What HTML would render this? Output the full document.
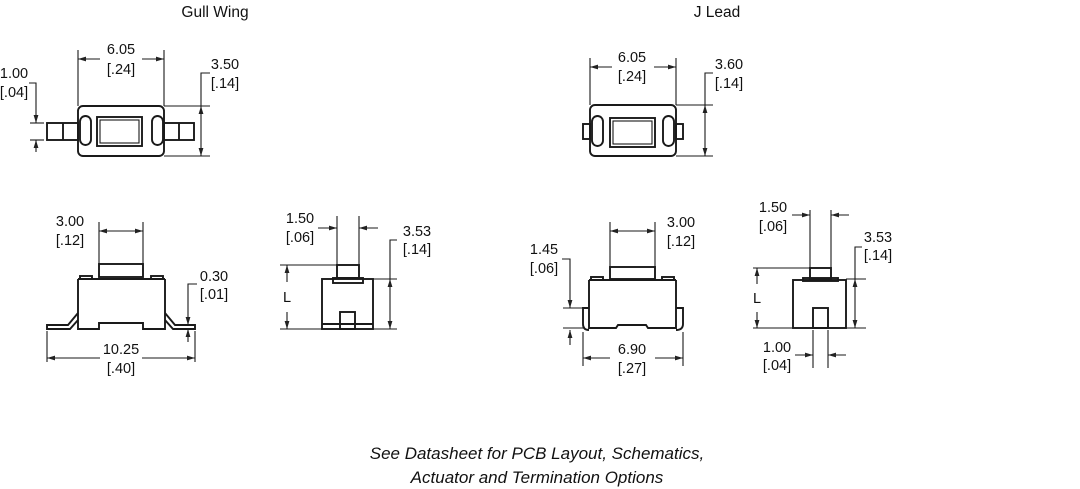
<!DOCTYPE html>
<html><head><meta charset="utf-8"><style>
html,body{margin:0;padding:0;background:#fff;width:1080px;height:489px;overflow:hidden}
svg{display:block}
.d{font-family:"Liberation Sans",sans-serif;font-size:14.5px;fill:#111;text-anchor:middle}
.t{font-family:"Liberation Sans",sans-serif;font-size:15.5px;fill:#111;text-anchor:middle}
.i{font-family:"Liberation Sans",sans-serif;font-size:17px;font-style:italic;fill:#111;text-anchor:middle}
.s{stroke:#1a1a1a;stroke-width:1.9;fill:none}
.l{stroke:#1a1a1a;stroke-width:1.1;fill:none}
</style></head><body>
<svg width="1080" height="489" viewBox="0 0 1080 489" xmlns="http://www.w3.org/2000/svg">
<defs>
<marker id="a" viewBox="0 0 10 10" refX="10" refY="5" markerWidth="8" markerHeight="8" markerUnits="userSpaceOnUse" orient="auto"><path d="M0,2 L10,5 L0,8 z" fill="#222"/></marker>
</defs>
<text class="t" x="215" y="17">Gull Wing</text>
<text class="t" x="717" y="17">J Lead</text>

<!-- Gull wing top view -->
<rect class="s" x="78" y="106" width="86" height="50" rx="5"/>
<rect class="s" x="97" y="117" width="45" height="29"/>
<rect class="l" x="100" y="120" width="39" height="23"/>
<rect class="s" x="80" y="116" width="11" height="29" rx="5.5"/>
<rect class="s" x="152" y="116" width="11" height="29" rx="5.5"/>
<rect class="s" x="47" y="123" width="31" height="17"/><line class="s" x1="63" y1="123" x2="63" y2="140"/>
<rect class="s" x="164" y="123" width="30" height="17"/><line class="s" x1="179" y1="123" x2="179" y2="140"/>
<line class="l" x1="78" y1="50" x2="78" y2="106"/><line class="l" x1="164" y1="50" x2="164" y2="106"/>
<line class="l" x1="100" y1="59" x2="78" y2="59" marker-end="url(#a)"/><line class="l" x1="142" y1="59" x2="164" y2="59" marker-end="url(#a)"/>
<text class="d" x="121" y="54">6.05</text><text class="d" x="121" y="74">[.24]</text>
<line class="l" x1="164" y1="106" x2="210" y2="106"/><line class="l" x1="164" y1="156" x2="210" y2="156"/>
<polyline class="l" points="210,73 201,73 201,106"/>
<line class="l" x1="201" y1="110" x2="201" y2="106" marker-end="url(#a)"/><line class="l" x1="201" y1="110" x2="201" y2="156" marker-end="url(#a)"/>
<text class="d" x="225" y="69">3.50</text><text class="d" x="225" y="88">[.14]</text>
<line class="l" x1="30" y1="123" x2="44" y2="123"/><line class="l" x1="30" y1="140" x2="44" y2="140"/>
<polyline class="l" points="29,83 36,83 36,123" marker-end="url(#a)"/>
<line class="l" x1="36" y1="152" x2="36" y2="140" marker-end="url(#a)"/>
<text class="d" x="14" y="78">1.00</text><text class="d" x="14" y="97">[.04]</text>

<!-- Gull wing front view -->
<rect class="s" x="99" y="264" width="44" height="13"/>
<rect class="s" x="80" y="276" width="12" height="3" fill="#888"/><rect class="s" x="151" y="276" width="12" height="3" fill="#888"/>
<line class="s" x1="78" y1="279" x2="165" y2="279"/>
<path class="s" d="M78,279 V329 H99 V323 H143 V329 H165 V279"/>
<path class="s" d="M78,313 L68,325 H47 V329 H70 L78,320"/>
<path class="s" d="M165,313 L175,325 H195 V329 H173 L165,320"/>
<line class="l" x1="99" y1="222" x2="99" y2="264"/><line class="l" x1="143" y1="222" x2="143" y2="264"/>
<line class="l" x1="121" y1="231" x2="99" y2="231" marker-end="url(#a)"/><line class="l" x1="121" y1="231" x2="143" y2="231" marker-end="url(#a)"/>
<text class="d" x="70" y="226">3.00</text><text class="d" x="70" y="245">[.12]</text>
<polyline class="l" points="197,284 188,284 188,325" marker-end="url(#a)"/>
<line class="l" x1="188" y1="342" x2="188" y2="329" marker-end="url(#a)"/>
<text class="d" x="214" y="281">0.30</text><text class="d" x="214" y="299">[.01]</text>
<line class="l" x1="47" y1="331" x2="47" y2="362"/><line class="l" x1="195" y1="331" x2="195" y2="362"/>
<line class="l" x1="100" y1="358" x2="47" y2="358" marker-end="url(#a)"/><line class="l" x1="142" y1="358" x2="195" y2="358" marker-end="url(#a)"/>
<text class="d" x="121" y="354">10.25</text><text class="d" x="121" y="373">[.40]</text>

<!-- Gull wing side view -->
<rect class="s" x="337" y="265" width="22" height="13"/>
<rect class="s" x="333" y="278" width="30" height="5"/>
<rect class="s" x="322" y="279" width="51" height="50"/>
<line class="s" x1="322" y1="324" x2="373" y2="324"/>
<rect class="s" x="340" y="312" width="15" height="17"/>
<line class="l" x1="280" y1="265" x2="337" y2="265"/><line class="l" x1="280" y1="329" x2="322" y2="329"/>
<line class="l" x1="287" y1="282" x2="287" y2="265" marker-end="url(#a)"/><line class="l" x1="287" y1="312" x2="287" y2="329" marker-end="url(#a)"/>
<text class="d" x="287" y="302">L</text>
<line class="l" x1="337" y1="216" x2="337" y2="265"/><line class="l" x1="359" y1="216" x2="359" y2="265"/>
<line class="l" x1="318" y1="228" x2="337" y2="228" marker-end="url(#a)"/><line class="l" x1="378" y1="228" x2="359" y2="228" marker-end="url(#a)"/>
<text class="d" x="300" y="223">1.50</text><text class="d" x="300" y="242">[.06]</text>
<line class="l" x1="373" y1="279" x2="397" y2="279"/><line class="l" x1="373" y1="329" x2="397" y2="329"/>
<polyline class="l" points="397,240 390,240 390,279"/>
<line class="l" x1="390" y1="300" x2="390" y2="279" marker-end="url(#a)"/><line class="l" x1="390" y1="300" x2="390" y2="329" marker-end="url(#a)"/>
<text class="d" x="417" y="236">3.53</text><text class="d" x="417" y="254">[.14]</text>

<!-- J lead top view -->
<rect class="s" x="590" y="105" width="86" height="51" rx="5"/>
<rect class="s" x="610" y="118" width="45" height="29"/>
<rect class="l" x="613" y="121" width="39" height="23"/>
<rect class="s" x="592" y="116" width="11" height="30" rx="5.5"/>
<rect class="s" x="663" y="116" width="11" height="30" rx="5.5"/>
<rect class="s" x="583" y="124" width="7" height="15"/>
<rect class="s" x="676" y="124" width="7" height="15"/>
<line class="l" x1="590" y1="58" x2="590" y2="105"/><line class="l" x1="676" y1="58" x2="676" y2="105"/>
<line class="l" x1="612" y1="67" x2="590" y2="67" marker-end="url(#a)"/><line class="l" x1="654" y1="67" x2="676" y2="67" marker-end="url(#a)"/>
<text class="d" x="632" y="62">6.05</text><text class="d" x="632" y="81">[.24]</text>
<line class="l" x1="676" y1="105" x2="713" y2="105"/><line class="l" x1="676" y1="156" x2="713" y2="156"/>
<polyline class="l" points="713,73 705,73 705,105"/>
<line class="l" x1="705" y1="110" x2="705" y2="105" marker-end="url(#a)"/><line class="l" x1="705" y1="110" x2="705" y2="156" marker-end="url(#a)"/>
<text class="d" x="729" y="69">3.60</text><text class="d" x="729" y="88">[.14]</text>

<!-- J lead front view -->
<rect class="s" x="610" y="267" width="45" height="12"/>
<rect class="s" x="591" y="277" width="12" height="3" fill="#888"/><rect class="s" x="662" y="277" width="12" height="3" fill="#888"/>
<line class="s" x1="589" y1="280" x2="676" y2="280"/>
<path class="s" d="M589,280 V328 H616 L618,325 H646 L648,328 H676 V280"/>
<path class="s" d="M589,308 H583 V324 Q583,330 589,330"/>
<path class="s" d="M676,308 H683 V324 Q683,330 676,330"/>
<line class="l" x1="610" y1="222" x2="610" y2="267"/><line class="l" x1="655" y1="222" x2="655" y2="267"/>
<line class="l" x1="632" y1="231" x2="610" y2="231" marker-end="url(#a)"/><line class="l" x1="632" y1="231" x2="655" y2="231" marker-end="url(#a)"/>
<text class="d" x="681" y="227">3.00</text><text class="d" x="681" y="246">[.12]</text>
<line class="l" x1="563" y1="308" x2="585" y2="308"/><line class="l" x1="563" y1="328" x2="585" y2="328"/>
<polyline class="l" points="562,259 570,259 570,308" marker-end="url(#a)"/>
<line class="l" x1="570" y1="345" x2="570" y2="330" marker-end="url(#a)"/>
<text class="d" x="544" y="254">1.45</text><text class="d" x="544" y="273">[.06]</text>
<line class="l" x1="583" y1="332" x2="583" y2="366"/><line class="l" x1="683" y1="332" x2="683" y2="366"/>
<line class="l" x1="610" y1="358" x2="583" y2="358" marker-end="url(#a)"/><line class="l" x1="655" y1="358" x2="683" y2="358" marker-end="url(#a)"/>
<text class="d" x="632" y="354">6.90</text><text class="d" x="632" y="373">[.27]</text>

<!-- J lead side view -->
<rect class="s" x="810" y="268" width="21" height="11"/>
<rect class="s" x="803" y="278" width="35" height="3"/>
<rect class="s" x="793" y="280" width="53" height="48"/>
<rect class="s" x="813" y="308" width="15" height="20"/>
<line class="l" x1="753" y1="268" x2="810" y2="268"/><line class="l" x1="753" y1="328" x2="793" y2="328"/>
<line class="l" x1="757" y1="284" x2="757" y2="268" marker-end="url(#a)"/><line class="l" x1="757" y1="312" x2="757" y2="328" marker-end="url(#a)"/>
<text class="d" x="757" y="303">L</text>
<line class="l" x1="810" y1="210" x2="810" y2="268"/><line class="l" x1="831" y1="210" x2="831" y2="268"/>
<line class="l" x1="792" y1="215" x2="810" y2="215" marker-end="url(#a)"/><line class="l" x1="849" y1="215" x2="831" y2="215" marker-end="url(#a)"/>
<text class="d" x="773" y="212">1.50</text><text class="d" x="773" y="231">[.06]</text>
<line class="l" x1="846" y1="279" x2="866" y2="279"/><line class="l" x1="846" y1="328" x2="866" y2="328"/>
<polyline class="l" points="862,247 855,247 855,279"/>
<line class="l" x1="855" y1="300" x2="855" y2="279" marker-end="url(#a)"/><line class="l" x1="855" y1="300" x2="855" y2="328" marker-end="url(#a)"/>
<text class="d" x="878" y="242">3.53</text><text class="d" x="878" y="260">[.14]</text>
<line class="l" x1="813" y1="330" x2="813" y2="368"/><line class="l" x1="828" y1="330" x2="828" y2="368"/>
<line class="l" x1="795" y1="355" x2="813" y2="355" marker-end="url(#a)"/><line class="l" x1="846" y1="355" x2="828" y2="355" marker-end="url(#a)"/>
<text class="d" x="777" y="352">1.00</text><text class="d" x="777" y="370">[.04]</text>

<text class="i" x="537" y="459">See Datasheet for PCB Layout, Schematics,</text>
<text class="i" x="537" y="483">Actuator and Termination Options</text>
</svg>
</body></html>
